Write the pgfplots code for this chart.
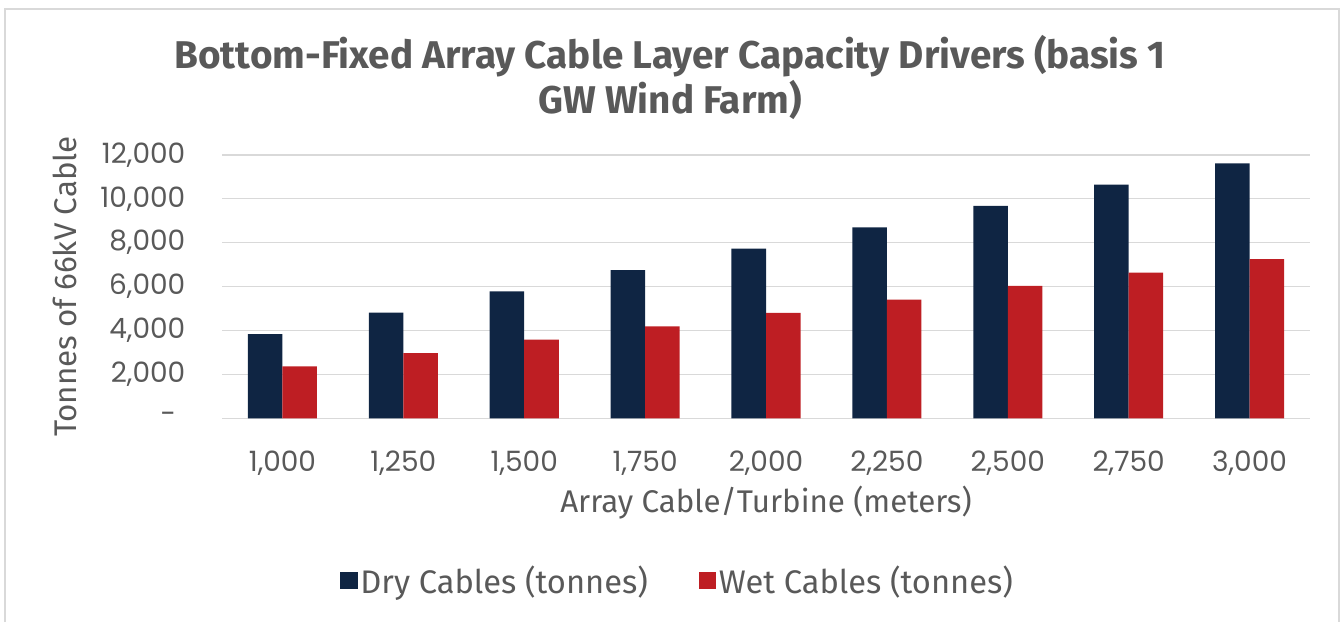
\documentclass[border=0pt]{standalone}
\usepackage{pgfplots}
\pgfplotsset{compat=1.18}
\usepackage{fontspec}
\setmainfont{Fira Sans}
\newfontfamily\numfont{Poppins}
\definecolor{navy}{HTML}{0F2543}
\definecolor{cred}{HTML}{BE1E23}
\definecolor{txt}{HTML}{595959}
\definecolor{gridc}{HTML}{D9D9D9}
\begin{document}
\begin{tikzpicture}
\useasboundingbox (0,0) rectangle (1005.75pt,466.5pt);
\draw[gridc, line width=1.2pt] (3.75pt,0) -- (3.75pt,459.75pt) -- (1004.25pt,459.75pt) -- (1004.25pt,0);
\node[font=\fontsize{29}{33.75}\selectfont\bfseries, text=txt, align=center] at (502.5pt,408.4pt) {Bottom-Fixed Array Cable Layer Capacity Drivers (basis 1\\GW Wind Farm)};
\begin{axis}[
  at={(166.5pt,152.8pt)}, anchor=south west,
  width=816pt, height=197.5pt, scale only axis,
  xmin=-0.5, xmax=8.5, ymin=0, ymax=12000,
  enlargelimits=false,
  scaled y ticks=false,
  ybar=0pt, bar width=25.9pt,
  xtick={0,1,2,3,4,5,6,7,8},
  xticklabels={{1,000},{1,250},{1,500},{1,750},{2,000},{2,250},{2,500},{2,750},{3,000}},
  ytick={0,2000,4000,6000,8000,10000,12000},
  yticklabels={{-\hspace*{7pt}},{2,000},{4,000},{6,000},{8,000},{10,000},{12,000}},
  ymajorgrids, grid style={gridc, line width=0.9pt},
  axis line style={draw=none},
  tick style={draw=none},
  ticklabel style={font=\numfont\fontsize{21}{24}\selectfont, text=txt},
  yticklabel style={xshift=-24pt},
  xticklabel style={yshift=-17pt},
  xlabel={Array Cable/Turbine (meters)},
  xlabel style={at={(axis description cs:0.5,-0.319)}, anchor=center, font=\fontsize{23.5}{26}\selectfont, text=txt},
  ylabel={Tonnes of 66kV Cable},
  ylabel style={at={(axis description cs:-0.144,0.5)}, anchor=center, font=\fontsize{23.5}{26}\selectfont, text=txt},
  legend style={at={(0.419,-0.616)}, anchor=center, draw=none, fill=none, legend columns=2,
    font=\fontsize{24.5}{27}\selectfont, text=txt,
    /tikz/every even column/.append style={column sep=36pt}},
  legend image code/.code={\fill[#1] (0pt,-6.6pt) rectangle (13.2pt,6.6pt);},
]
\addplot[fill=navy, draw=none] coordinates {(0,3830) (1,4810) (2,5780) (3,6750) (4,7730) (5,8700) (6,9680) (7,10650) (8,11620)};
\addlegendentry{Dry Cables (tonnes)}
\addplot[fill=cred, draw=none] coordinates {(0,2360) (1,2970) (2,3580) (3,4190) (4,4800) (5,5410) (6,6030) (7,6640) (8,7250)};
\addlegendentry{Wet Cables (tonnes)}
\end{axis}
\end{tikzpicture}
\end{document}
